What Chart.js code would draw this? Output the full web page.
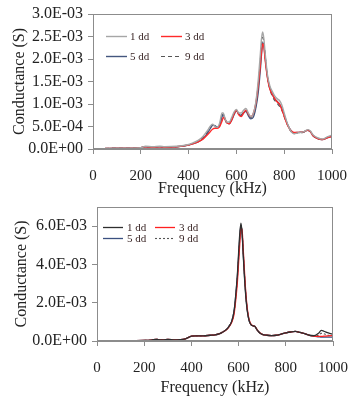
<!DOCTYPE html>
<html><head><meta charset="utf-8">
<script src="https://cdn.jsdelivr.net/npm/chart.js@4.4.1/dist/chart.umd.min.js"></script>
<style>
html,body{margin:0;padding:0;background:#fff;width:348px;height:397px;overflow:hidden}
#c1{position:absolute;left:0;top:0}
#c2{position:absolute;left:0;top:198px}
</style></head><body>
<canvas id="c1" width="348" height="198"></canvas>
<canvas id="c2" width="348" height="199"></canvas>
<script>
// ---------- data (conductance values in units of 1E-03 S) ----------
const seriesLabels = ['1 dd', '3 dd', '5 dd', '9 dd'];
const xTickValues = [0, 200, 400, 600, 800, 1000];

// Top chart
const freqTop = [50,100,150,200,220,250,280,300,350,400,420,440,460,480,490,500,510,520,530,540,545,550,560,570,580,590,600,610,620,630,640,650,660,670,680,690,700,705,710,715,720,730,740,750,760,770,780,790,800,810,820,830,840,860,880,900,910,920,940,960,980,1000];
const top1dd = [0.01,0.02,0.02,0.03,0.06,0.05,0.06,0.05,0.06,0.10,0.14,0.19,0.28,0.42,0.50,0.55,0.50,0.48,0.58,0.80,0.80,0.72,0.60,0.60,0.70,0.82,0.88,0.80,0.80,0.86,0.90,0.80,0.72,0.78,1.00,1.45,2.10,2.45,2.60,2.45,2.15,1.65,1.40,1.28,1.18,1.12,1.08,0.98,0.80,0.62,0.48,0.38,0.34,0.36,0.38,0.43,0.40,0.32,0.25,0.22,0.27,0.31];
const top3dd = [0.01,0.02,0.02,0.03,0.05,0.04,0.05,0.04,0.05,0.09,0.12,0.16,0.22,0.32,0.38,0.44,0.46,0.46,0.50,0.62,0.70,0.68,0.58,0.56,0.64,0.78,0.86,0.76,0.72,0.80,0.86,0.78,0.72,0.78,0.98,1.35,1.85,2.15,2.34,2.28,2.00,1.58,1.33,1.22,1.12,1.05,1.00,0.88,0.73,0.58,0.47,0.40,0.37,0.37,0.38,0.42,0.38,0.30,0.23,0.21,0.25,0.28];
const top5dd = [0.01,0.02,0.02,0.03,0.05,0.04,0.05,0.04,0.05,0.09,0.12,0.16,0.23,0.36,0.45,0.53,0.52,0.48,0.52,0.72,0.76,0.70,0.58,0.56,0.64,0.76,0.85,0.78,0.74,0.80,0.84,0.74,0.67,0.70,0.88,1.20,1.75,2.10,2.36,2.30,2.05,1.60,1.35,1.22,1.12,1.06,1.00,0.90,0.75,0.60,0.48,0.40,0.36,0.37,0.38,0.42,0.38,0.30,0.23,0.21,0.25,0.28];
const top9dd = [0.01,0.02,0.02,0.03,0.05,0.04,0.05,0.04,0.05,0.09,0.13,0.17,0.25,0.38,0.46,0.52,0.50,0.48,0.54,0.74,0.77,0.70,0.58,0.57,0.66,0.78,0.85,0.78,0.76,0.82,0.86,0.76,0.69,0.73,0.92,1.30,1.95,2.30,2.48,2.38,2.10,1.60,1.33,1.18,1.08,1.02,0.95,0.86,0.72,0.58,0.46,0.38,0.34,0.36,0.37,0.41,0.38,0.30,0.23,0.21,0.26,0.29];

// Bottom chart
const freqBot = [100,150,200,230,250,260,280,300,330,350,370,390,400,420,450,480,500,520,530,540,550,560,570,580,585,590,595,600,605,610,615,620,625,630,635,640,645,650,655,660,665,670,675,680,690,700,720,740,760,780,800,820,840,860,880,900,920,940,950,960,980,1000];
const bot1dd = [0.01,0.02,0.03,0.05,0.09,0.07,0.06,0.08,0.06,0.07,0.10,0.20,0.26,0.27,0.27,0.30,0.32,0.38,0.45,0.52,0.62,0.78,1.00,1.50,2.00,2.70,3.50,4.60,5.60,6.15,5.60,4.40,3.30,2.40,1.75,1.32,1.05,0.90,0.82,0.80,0.78,0.75,0.65,0.55,0.42,0.35,0.30,0.28,0.30,0.36,0.42,0.47,0.50,0.45,0.38,0.30,0.28,0.42,0.55,0.52,0.42,0.35];
const bot3dd = [0.01,0.02,0.03,0.05,0.09,0.07,0.06,0.08,0.06,0.07,0.10,0.20,0.26,0.27,0.27,0.30,0.32,0.38,0.45,0.52,0.60,0.75,0.95,1.35,1.80,2.40,3.10,4.10,5.10,5.90,5.75,4.70,3.60,2.60,1.90,1.40,1.10,0.92,0.84,0.80,0.78,0.75,0.66,0.56,0.43,0.35,0.30,0.28,0.30,0.36,0.42,0.47,0.50,0.45,0.38,0.30,0.25,0.24,0.24,0.25,0.27,0.28];
const bot5dd = [0.01,0.02,0.03,0.05,0.09,0.07,0.06,0.08,0.06,0.07,0.10,0.20,0.26,0.27,0.27,0.30,0.32,0.38,0.45,0.52,0.62,0.78,1.00,1.50,2.00,2.65,3.40,4.40,5.40,6.05,5.60,4.50,3.40,2.50,1.80,1.35,1.05,0.90,0.82,0.80,0.78,0.75,0.65,0.55,0.42,0.35,0.30,0.28,0.30,0.36,0.42,0.47,0.50,0.45,0.38,0.30,0.25,0.22,0.20,0.20,0.20,0.20];
const bot9dd = [0.01,0.02,0.03,0.05,0.09,0.07,0.06,0.08,0.06,0.07,0.10,0.20,0.26,0.27,0.27,0.30,0.32,0.38,0.45,0.52,0.62,0.78,1.00,1.48,1.95,2.60,3.35,4.35,5.35,6.00,5.65,4.55,3.45,2.50,1.80,1.35,1.05,0.90,0.82,0.80,0.78,0.75,0.65,0.55,0.42,0.35,0.30,0.28,0.30,0.36,0.42,0.47,0.50,0.45,0.38,0.30,0.26,0.30,0.40,0.38,0.30,0.28];

// ---------- helpers ----------
const toSiemens = v => v / 1000;  // unit conversion 1E-03 S -> S
function sci(v) {
  if (Math.abs(v) < 1e-12) return '0.0E+00';
  let e = Math.floor(Math.log10(Math.abs(v)) + 1e-9);
  let m = v / Math.pow(10, e);
  if (Math.round(m * 10) / 10 >= 10) { e += 1; m = v / Math.pow(10, e); }
  return m.toFixed(1) + 'E' + (e < 0 ? '-' : '+') + String(Math.abs(e)).padStart(2, '0');
}
const FONT = "'Liberation Serif', 'Times New Roman', serif";
const AX = '#8c8c8c';
const TXT = '#222';

const legendPlugin = {
  id: 'inLegend',
  afterDatasetsDraw(chart, args, opts) {
    const { ctx, chartArea: a } = chart;
    ctx.save();
    ctx.font = opts.font;
    ctx.textBaseline = 'middle';
    ctx.textAlign = 'left';
    chart.data.datasets.forEach((ds, i) => {
      const p = opts.items[i];
      const x = a.left + p[0], y = a.top + p[1];
      ctx.beginPath();
      ctx.strokeStyle = ds.borderColor;
      ctx.lineWidth = ds.borderWidth;
      ctx.setLineDash(ds.borderDash || []);
      ctx.moveTo(x, y + 0.5); ctx.lineTo(x + opts.lineLen, y + 0.5);
      ctx.stroke();
      ctx.setLineDash([]);
      ctx.fillStyle = '#3a2626';
      ctx.fillText(ds.label, x + opts.lineLen + opts.gap, y + 1);
    });
    ctx.restore();
  }
};
const boxPlugin = {
  id: 'box',
  afterDraw(chart) {
    const { ctx, chartArea: a } = chart;
    ctx.save();
    ctx.strokeStyle = AX; ctx.lineWidth = 1;
    ctx.strokeRect(Math.round(a.left) + 0.5, Math.round(a.top) + 0.5, Math.round(a.right - a.left) - 1, Math.round(a.bottom - a.top) - 1);
    ctx.restore();
  }
};

function makeChart(id, freq, series, styles, cfg) {
  const datasets = series.map((vals, i) => ({
    label: seriesLabels[i],
    data: freq.map((f, j) => ({ x: f, y: toSiemens(vals[j]) })),
    borderColor: styles[i].color,
    borderWidth: styles[i].width,
    borderDash: styles[i].dash,
    pointRadius: 0,
    fill: false,
    cubicInterpolationMode: 'monotone'
  }));
  return new Chart(document.getElementById(id), {
    type: 'line',
    data: { datasets },
    plugins: [legendPlugin, boxPlugin],
    options: {
      responsive: false, animation: false, devicePixelRatio: 1,
      layout: { padding: cfg.padding },
      plugins: {
        legend: { display: false }, tooltip: { enabled: false },
        inLegend: cfg.legend
      },
      scales: {
        x: {
          type: 'linear', min: 0, max: 1000,
          afterBuildTicks(s) { s.ticks = xTickValues.map(v => ({ value: v })); },
          ticks: { callback: v => String(v), color: TXT, font: { family: FONT, size: 15 }, padding: 13, maxRotation: 0, autoSkip: false },
          grid: { drawOnChartArea: false, tickLength: 5, color: AX },
          border: { color: AX },
          title: { display: true, text: 'Frequency (kHz)', color: TXT, font: { family: FONT, size: 16 }, padding: { top: 0, bottom: cfg.xTitlePad } },
          afterFit(s) { s.height = cfg.xHeight; s.paddingLeft = 0; s.paddingRight = 0; }
        },
        y: {
          min: 0, max: cfg.yMax,
          ticks: { stepSize: cfg.yStep, callback: v => sci(v), color: TXT, font: { family: FONT, size: 16 }, padding: 5 },
          afterBuildTicks(s) { s.ticks = s.ticks.filter(t => t.value <= cfg.yLastTick + 1e-9); },
          grid: { drawOnChartArea: false, tickLength: 5, color: AX },
          border: { color: AX },
          title: { display: true, text: 'Conductance (S)', color: TXT, font: { family: FONT, size: 16 }, padding: { top: cfg.yTitlePad, bottom: 0 } },
          afterFit(s) { s.width = cfg.yWidth; s.paddingTop = 0; s.paddingBottom = 0; }
        }
      }
    }
  });
}

makeChart('c1', freqTop, [top1dd, top3dd, top5dd, top9dd], [
  { color: '#a6a6a6', width: 1.4, dash: [] },
  { color: '#ff2a2a', width: 1.4, dash: [] },
  { color: '#44567e', width: 1.4, dash: [] },
  { color: '#555555', width: 1.2, dash: [4, 3] }
], {
  padding: { left: 0, top: 14, right: 16, bottom: 0 },
  yMax: 3e-3, yStep: 5e-4, yLastTick: 3e-3, yWidth: 93, xHeight: 49,
  xTitlePad: 0, yTitlePad: 10,
  legend: { font: "11px " + FONT, lineLen: 21, gap: 3, items: [[13, 22], [68, 22], [13, 42], [68, 42]] }
});

makeChart('c2', freqBot, [bot1dd, bot3dd, bot5dd, bot9dd], [
  { color: '#2e2e2e', width: 1.3, dash: [] },
  { color: '#ff2020', width: 1.3, dash: [] },
  { color: '#3b5080', width: 1.3, dash: [] },
  { color: '#555555', width: 1.1, dash: [2, 2] }
], {
  padding: { left: 0, top: 9, right: 15, bottom: 0 },
  yMax: 7e-3, yStep: 2e-3, yLastTick: 6e-3, yWidth: 97, xHeight: 56,
  xTitlePad: 0, yTitlePad: 12,
  legend: { font: "11px " + FONT, lineLen: 20, gap: 4, items: [[6, 20], [58, 20], [6, 31], [58, 31]] }
});
</script>
</body></html>
